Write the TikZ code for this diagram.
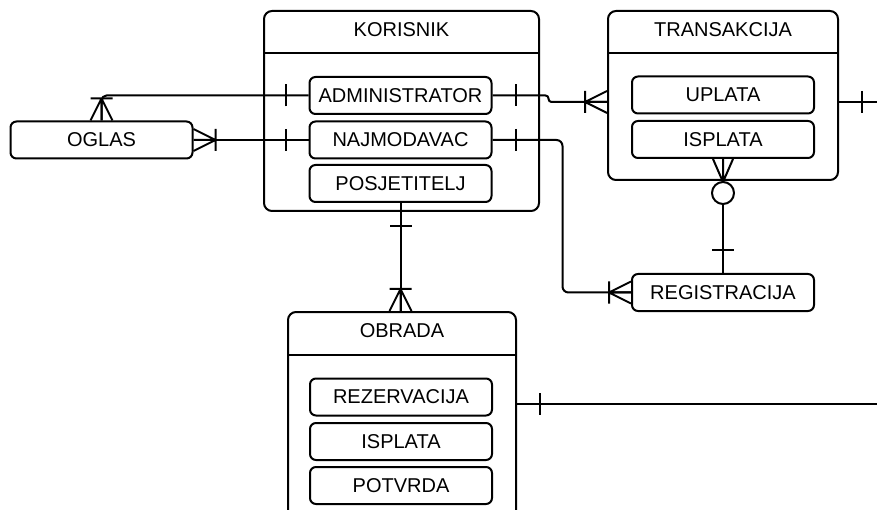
\documentclass[tikz,border=0pt]{standalone}
\usepackage{fontspec}
\setmainfont{Liberation Sans}
\usepackage{tikz}
\usetikzlibrary{calc}
\usetikzlibrary{positioning}

\tikzset{
    onebar/.pic={\draw (23,-11) -- (23,11);},
    manyfoot/.pic={\draw (0,-11) -- (22,0) -- (0,11) (0,0) -- (22,0) (22,-11) -- (22,11);},
    zeromany/.pic={\draw (0,-10) -- (23,0) -- (0,10) (0,0) -- (23,0);
                   \filldraw[fill=white] (34,0) circle (11pt);}
}

\begin{document}
\begin{tikzpicture}[x=1pt, y=-1pt, line width=2pt, line join=round,
        entity/.style={draw, rounded corners=6pt, minimum width=182, minimum height=37,
                       inner sep=0pt, font=\fontsize{20}{24}\selectfont},
        group/.style={draw, rounded corners=8pt, inner sep=0pt},
        heading/.style={font=\fontsize{20}{24}\selectfont}]
            \clip (0,0) rectangle (877,510);

            % containers
            \node[group, minimum width=275, minimum height=200] (korisnik)    at (401.5,111.0) {};
            \node[group, minimum width=230, minimum height=169] (transakcija) at (723.0, 95.5) {};
            \node[group, minimum width=228, minimum height=240] (obrada)      at (402.0,432.0) {};
            \node[heading] (korisnikH)    at (401.5, 30.0) {KORISNIK};
            \node[heading] (transakcijaH) at (723.0, 29.5) {TRANSAKCIJA};
            \node[heading] (obradaH)      at (402.0,331.0) {OBRADA};
            \draw (korisnik.west |- 0,53)    -- (korisnik.east |- 0,53);
            \draw (transakcija.west |- 0,53) -- (transakcija.east |- 0,53);
            \draw (obrada.west |- 0,355)     -- (obrada.east |- 0,355);

            % entities
            \node[entity] (administrator) at (400.5, 95.5) {ADMINISTRATOR};
            \node[entity] (najmodavac)    at (400.5,140.0) {NAJMODAVAC};
            \node[entity] (posjetitelj)   at (400.5,183.5) {POSJETITELJ};
            \node[entity] (uplata)        at (723.0, 95.0) {UPLATA};
            \node[entity] (tisplata)      at (723.0,139.5) {ISPLATA};
            \node[entity] (rezervacija)   at (401.0,397.0) {REZERVACIJA};
            \node[entity] (oisplata)      at (401.0,441.5) {ISPLATA};
            \node[entity] (potvrda)       at (401.0,485.5) {POTVRDA};
            \node[entity] (oglas)         at (101.5,140.0) {OGLAS};
            \node[entity] (registracija)  at (723.0,292.5) {REGISTRACIJA};

            % relations
            \coordinate (edgeT) at (880,102);
            \coordinate (edgeO) at (880,404);
            \draw[rounded corners=5pt] (administrator.west) -| (oglas.north);
            \draw (najmodavac.west) -- (oglas.east);
            \draw[rounded corners=3pt] (administrator.east) -- ++(56,0) |- ([yshift=-6.5pt]transakcija.west);
            \draw[rounded corners=6pt] (najmodavac.east) -- ++(70,0) |- (registracija.west);
            \draw (posjetitelj.south) -- (posjetitelj.south |- obrada.north) coordinate (obradaN);
            \draw (tisplata.south) -- (registracija.north);
            \draw ([yshift=-6.5pt]transakcija.east) -- (edgeT);
            \draw ([yshift=-7pt]rezervacija.east -| obrada.east) -- (edgeO);

            \path (administrator.west) pic[rotate=180] {onebar};
            \path (najmodavac.west)    pic[rotate=180] {onebar};
            \path (administrator.east) pic {onebar};
            \path (najmodavac.east)    pic {onebar};
            \path (posjetitelj.south)  pic[rotate=270] {onebar};
            \path (registracija.north) pic[rotate=90] {onebar};
            \path ([yshift=-6.5pt]transakcija.east) pic {onebar};
            \path ([yshift=-7pt]rezervacija.east -| obrada.east) pic {onebar};
            \path (oglas.north)        pic[rotate=90] {manyfoot};
            \path (oglas.east)         pic {manyfoot};
            \path ([yshift=-6.5pt]transakcija.west) pic[rotate=180] {manyfoot};
            \path (registracija.west)  pic[rotate=180] {manyfoot};
            \path (obradaN)            pic[rotate=90] {manyfoot};
            \path (tisplata.south)     pic[rotate=270] {zeromany};
\end{tikzpicture}
\end{document}
